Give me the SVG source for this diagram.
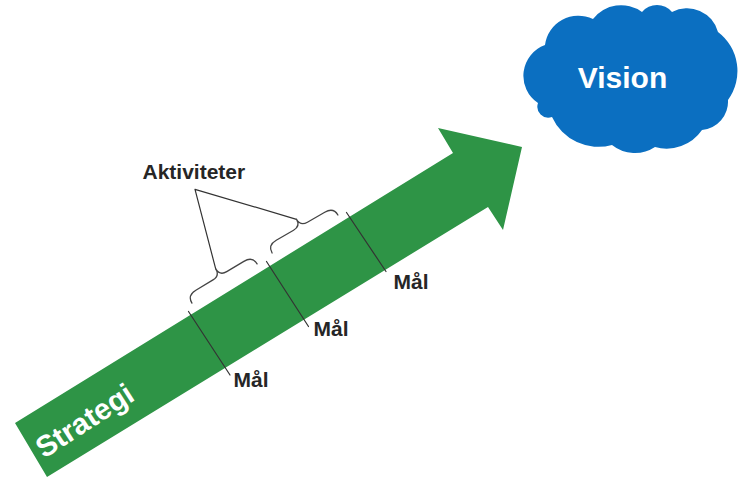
<svg xmlns="http://www.w3.org/2000/svg" width="741" height="479" viewBox="0 0 741 479">
  <defs>
    <style>
      .lbl { font-family: "Liberation Sans", Arial, sans-serif; font-weight: bold; fill: #262626; }
      .white { font-family: "Liberation Sans", Arial, sans-serif; font-weight: bold; fill: #ffffff; }
      .thin { fill: none; stroke: #333333; stroke-width: 1.2; stroke-linecap: round; stroke-linejoin: round; }
      .brace { fill: none; stroke: #444444; stroke-width: 1.3; stroke-linecap: round; stroke-linejoin: round; }
    </style>
    <path id="bracePath" d="M -38,0 C -38,-6 -35,-9 -28,-9 L -8,-9 C -3,-9 0,-12 0,-17 C 0,-12 3,-9 8,-9 L 28,-9 C 35,-9 38,-6 38,0"/>
  </defs>
  <rect width="741" height="479" fill="#ffffff"/>

  <g id="strategi-arrow">
    <polygon points="15,423 453,153 438,128 522,147 503,230 488,207 47,477" fill="#2e9446"/>
    <text class="white" x="44" y="459" font-size="29.5" transform="rotate(-33 44 459)">Strategi</text>
  </g>

  <g id="vision">
    <path d="M 538,103 A 32.7 32.7 0 0 1 545,45 A 33.6 33.6 0 0 1 593,19 A 35.5 35.5 0 0 1 642,12 A 19.6 19.6 0 0 1 672,12 A 32 32 0 0 1 718,32 A 49 49 0 0 1 728,100 A 28.5 28.5 0 0 1 702,130 A 43 43 0 0 1 655,147 A 36.5 36.5 0 0 1 612,145 A 51 51 0 0 1 552,117 A 11 11 0 0 1 538,103 Z" fill="#0b6fc1"/>
    <text class="white" x="622.5" y="88" font-size="30" text-anchor="middle">Vision</text>
  </g>

  <g id="aktiviteter">
    <text class="lbl" x="142.5" y="178.5" font-size="21">Aktiviteter</text>
  </g>

  <g id="mal-1"><text class="lbl" x="233.5" y="387" font-size="21">Mål</text></g>
  <g id="mal-2"><text class="lbl" x="313.5" y="336" font-size="21">Mål</text></g>
  <g id="mal-3"><text class="lbl" x="393.5" y="288.5" font-size="21">Mål</text></g>

  <g id="connectors">
    <line class="thin" x1="188.5" y1="311.5" x2="230" y2="375"/>
    <line class="thin" x1="266.5" y1="261.5" x2="308.5" y2="326.5"/>
    <line class="thin" x1="346.5" y1="212.5" x2="386" y2="271.5"/>
    <polyline class="thin" points="215.7,268.9 195,189.3 296.5,219.3"/>
    <use href="#bracePath" class="brace" transform="translate(224.5 283.5) rotate(-31)"/>
    <use href="#bracePath" class="brace" transform="translate(305 234) rotate(-30)"/>
  </g>
</svg>
